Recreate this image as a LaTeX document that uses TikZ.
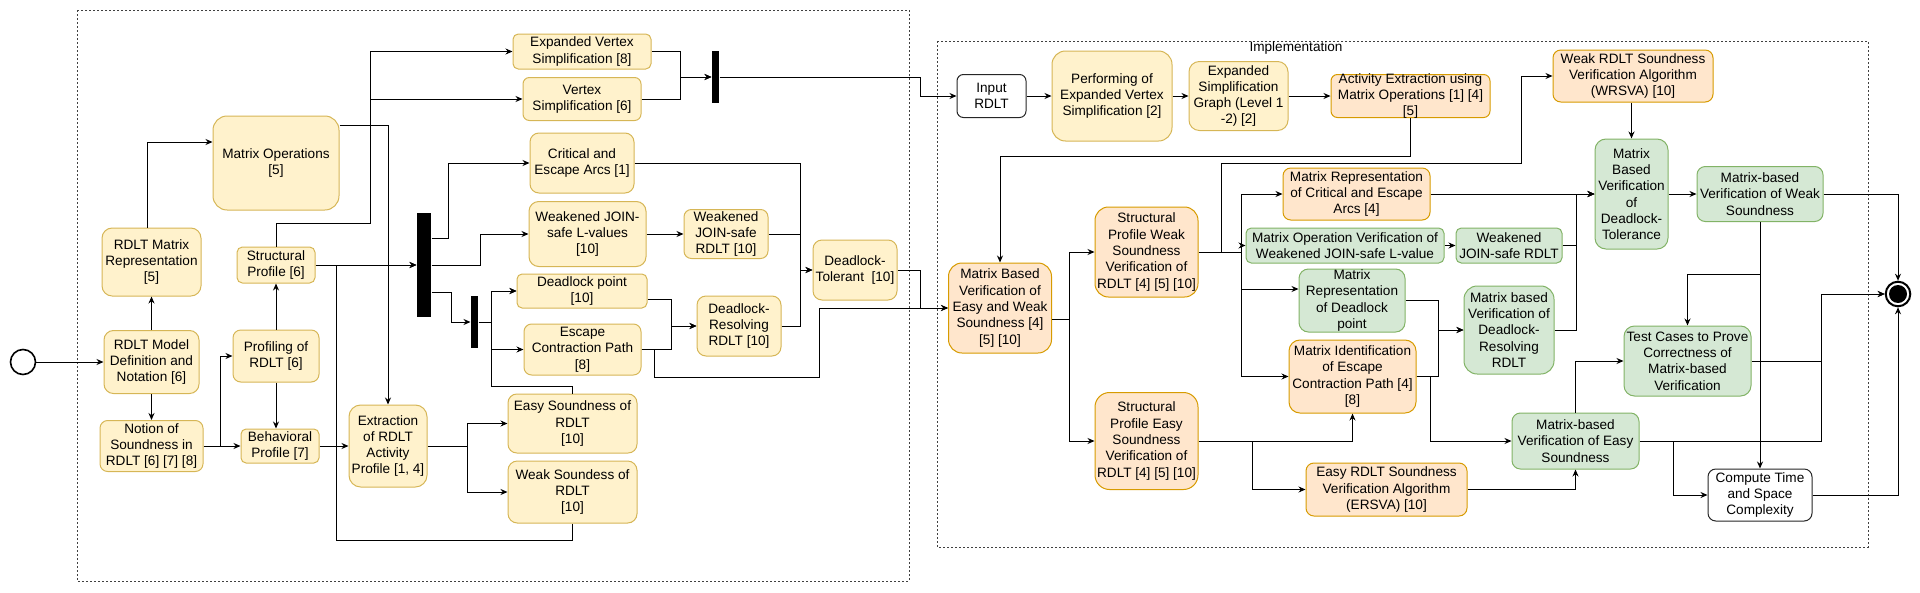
\documentclass[tikz,border=0pt]{standalone}
\usepackage{fontspec}
\setmainfont{Liberation Sans}
\usetikzlibrary{arrows.meta}

\definecolor{ylwfill}{HTML}{FFF2CC}
\definecolor{ylwline}{HTML}{D6B656}
\definecolor{orgfill}{HTML}{FFE6CC}
\definecolor{orgline}{HTML}{D79B00}
\definecolor{grnfill}{HTML}{D5E8D4}
\definecolor{grnline}{HTML}{82B366}

\begin{document}
\begin{tikzpicture}[x=1pt,y=-1pt,line width=1pt,>={Stealth[length=7pt,width=6pt]},
        font=\fontsize{13.6}{16.3}\selectfont,
        box/.style 2 args={rectangle, draw, align=center, inner sep=0pt,
            minimum width=#1pt, minimum height=#2pt, rounded corners={0.15*min(#1,#2)}},
        yellowbox/.style={fill=ylwfill, draw=ylwline},
        orangebox/.style={fill=orgfill, draw=orgline},
        greenbox/.style={fill=grnfill, draw=grnline},
        whitebox/.style={fill=white, draw=black!85},
        bar/.style={fill=black, inner sep=0pt},
        region/.style={draw=black!75, dash pattern=on 2pt off 2pt}]
    \useasboundingbox (0,0) rectangle (1920,592);

    % the two dotted regions
    \draw[region] (77,10) rectangle (909,581);
    \draw[region] (937,41) rectangle (1868,547);
    \node (impl) at (1296,48) {Implementation};

    % study of RDLT
    \node[circle, draw, line width=1.6pt, minimum size=25pt, inner sep=0pt] (start) at (23,362) {};
    \node[box={95}{63}, yellowbox] (mdef) at (151.5,362) {RDLT Model\\Definition and\\Notation [6]};
    \node[box={103}{51}, yellowbox] (notion) at (151.5,446) {Notion of\\Soundness in\\RDLT [6] [7] [8]};
    \node[box={99}{68}, yellowbox] (mrep) at (151.5,262) {RDLT Matrix\\Representation\\{}[5]};
    \node[box={126}{94}, yellowbox] (mops) at (276,163) {Matrix Operations\\{}[5]};
    \node[box={78}{36}, yellowbox] (sprof) at (276,265) {Structural\\Profile [6]};
    \node[box={86}{52}, yellowbox] (prof) at (276,356) {Profiling of\\RDLT [6]};
    \node[box={78}{34}, yellowbox] (bprof) at (280,446) {Behavioral\\Profile [7]};
    \node[box={78}{82}, yellowbox] (extr) at (388,446) {Extraction\\of RDLT\\Activity\\Profile [1, 4]};
    \node[box={129}{59}, yellowbox] (easy) at (572.5,423.5) {Easy Soundness of\\RDLT\\{}[10]};
    \node[box={129}{62}, yellowbox] (weak) at (572.5,492) {Weak Soundess of\\RDLT\\{}[10]};
    \node[box={138}{35}, yellowbox] (evs) at (582,51.5) {Expanded Vertex\\Simplification [8]};
    \node[box={118}{43}, yellowbox] (vs) at (582,99) {Vertex\\Simplification [6]};
    \node[box={104}{60}, yellowbox] (crit) at (582,163) {Critical and\\Escape Arcs [1]};
    \node[box={117}{65}, yellowbox] (wjl) at (587.5,234) {Weakened JOIN-\\safe L-values\\{}[10]};
    \node[box={84}{49}, yellowbox] (wjr) at (726,234) {Weakened\\JOIN-safe\\RDLT [10]};
    \node[box={130}{34}, yellowbox] (dlp) at (582,291) {Deadlock point\\{}[10]};
    \node[box={117}{51}, yellowbox] (ecp) at (582.5,349.5) {Escape\\Contraction Path\\{}[8]};
    \node[box={84}{60}, yellowbox] (dlr) at (739,326) {Deadlock-\\Resolving\\RDLT [10]};
    \node[box={84}{60}, yellowbox] (dlt) at (855,270) {Deadlock-\\Tolerant~~[10]};
    \node[bar, minimum width=14pt, minimum height=104pt] (barA) at (424,265) {};
    \node[bar, minimum width=7pt, minimum height=52pt] (barB) at (474.5,322) {};
    \node[bar, minimum width=7pt, minimum height=52pt] (barC) at (715.5,77) {};

    % implementation
    \node[box={69}{43}, whitebox] (input) at (991.5,96) {Input\\RDLT};
    \node[box={120}{90}, yellowbox] (pevs) at (1112,96) {Performing of\\Expanded Vertex\\Simplification [2]};
    \node[box={99}{69}, yellowbox] (esg) at (1238.5,96) {Expanded\\Simplification\\Graph (Level 1\\-2) [2]};
    \node[box={159}{43}, orangebox, inner ysep=-2pt] (aem) at (1410.5,96) {Activity Extraction using\\Matrix Operations [1] [4]\\{}[5]};
    \node[box={103}{90}, orangebox] (mbv) at (1000,308) {Matrix Based\\Verification of\\Easy and Weak\\Soundness [4]\\{}[5] [10]};
    \node[box={103}{90}, orangebox] (spw) at (1146.5,252) {Structural\\Profile Weak\\Soundness\\Verification of\\RDLT [4] [5] [10]};
    \node[box={103}{97}, orangebox] (spe) at (1146.5,441) {Structural\\Profile Easy\\Soundness\\Verification of\\RDLT [4] [5] [10]};
    \node[box={147}{52}, orangebox] (mrc) at (1356.5,194) {Matrix Representation\\of Critical and Escape\\Arcs [4]};
    \node[box={198}{35}, greenbox] (mov) at (1345,245.5) {Matrix Operation Verification of\\Weakened JOIN-safe L-value};
    \node[box={106}{35}, greenbox] (wjg) at (1509,245.5) {Weakened\\JOIN-safe RDLT};
    \node[box={106}{63}, greenbox] (mrd) at (1352,300.5) {Matrix\\Representation\\of Deadlock\\point};
    \node[box={90}{88}, greenbox] (mbvdr) at (1509,330) {Matrix based\\Verification of\\Deadlock-\\Resolving\\RDLT};
    \node[box={127}{73}, orangebox] (mie) at (1352.5,376.5) {Matrix Identification\\of Escape\\Contraction Path [4]\\{}[8]};
    \node[box={161}{53}, orangebox] (ersva) at (1386.5,489.5) {Easy RDLT Soundness\\Verification Algorithm\\(ERSVA) [10]};
    \node[box={160}{52}, orangebox] (wrsva) at (1633,76) {Weak RDLT Soundness\\Verification Algorithm\\(WRSVA) [10]};
    \node[box={73}{110}, greenbox] (mbvdt) at (1631.5,194) {Matrix\\Based\\Verification\\of\\Deadlock-\\Tolerance};
    \node[box={126}{55}, greenbox] (mbvws) at (1760,194) {Matrix-based\\Verification of Weak\\Soundness};
    \node[box={127}{70}, greenbox] (test) at (1687.5,361) {Test Cases to Prove\\Correctness of\\Matrix-based\\Verification};
    \node[box={127}{56}, greenbox] (mbves) at (1575.5,441) {Matrix-based\\Verification of Easy\\Soundness};
    \node[box={104}{52}, whitebox] (cts) at (1760,495) {Compute Time\\and Space\\Complexity};
    \node[circle, draw, line width=2pt, minimum size=24.6pt, inner sep=0pt] (end) at (1898,294) {};
    \fill (end.center) circle (9pt);

    % connectors, study part
    \draw[->] (start) -- (mdef);
    \draw[->] (mdef) -- (mrep);
    \draw[->] (mdef) -- (notion);
    \draw[->] (mrep.north -| 147,0) |- (mops.west |- 0,142);
    \draw[->] (notion) -- (bprof);
    \draw[->] (220,446) |- (prof);
    \draw[->] (prof.south) -- (prof.south |- bprof.north);
    \draw[->] (prof) -- (sprof);
    \draw[->] (sprof) |- (370,223) |- (evs);
    \draw[->] (370,99) -- (vs);
    \draw[->] (mops.east |- 0,125) -| (extr);
    \draw[->] (sprof) -- (barA);
    \draw[->] (weak) |- (336,540) |- (barA);
    \draw[->] (barA.east |- 0,238) -- (448,238) |- (crit);
    \draw[->] (barA) -- (480,265) |- (wjl);
    \draw[->] (barA.east |- 0,292) -- (451,292) |- (barB);
    \draw[->] (barB) -- (491,322) |- (dlp);
    \draw[->] (491,322) |- (ecp);
    \draw[->] (easy) |- (491,386) |- (dlp);
    \draw[->] (bprof) -- (extr);
    \draw[->] (extr) -- (467,446) |- (easy);
    \draw[->] (467,446) |- (weak);
    \draw[->] (wjl) -- (wjr);
    \draw[->] (evs) -| (680,77) -- (barC);
    \draw[->] (vs) -| (680,77) -- (barC);
    \draw[->] (crit) -| (800,270) -- (dlt);
    \draw (wjr) -- (800,234);
    \draw[->] (dlr) -| (800,270) -- (dlt);
    \draw[->] (dlp.east |- 0,299) -| (671,326) -- (dlr);
    \draw[->] (ecp) -| (671,326) -- (dlr);
    \draw[->] (ecp) -| (654,377) -| (819,308) -- (mbv);
    \draw[->] (dlt) -| (920,308) -- (mbv);
    \draw[->] (barC) -| (920,96) -- (input);

    % connectors, implementation
    \draw[->] (input) -- (pevs);
    \draw[->] (pevs) -- (esg);
    \draw[->] (esg) -- (aem);
    \draw[->] (aem) |- (1000,156) -- (mbv);
    \draw[->] (mbv.east |- 0,319) -| (1069,252) -- (spw);
    \draw[->] (1069,319) |- (spe);
    \draw[->] (spw) -- (1241,252) |- (mrc);
    \draw[->] (1241,252) |- (mov);
    \draw[->] (1241,252) |- (mrd.west |- 0,289);
    \draw[->] (1241,252) |- (mie);
    \draw[->] (1221,252) |- (1521,163) |- (wrsva);
    \draw[->] (mov) -- (wjg);
    \draw[->] (mrc) -- (mbvdt);
    \draw[->] (wjg) -| (1576,194) -- (mbvdt);
    \draw[->] (mbvdr) -| (1576,194) -- (mbvdt);
    \draw[->] (mrd) -| (1438,330) -- (mbvdr);
    \draw[->] (mie) -| (1438,330) -- (mbvdr);
    \draw[->] (mie) -| (1430,441) -- (mbves);
    \draw[->] (spe) -| (mie);
    \draw[->] (1252,441) |- (ersva);
    \draw[->] (ersva) -| (mbves);
    \draw[->] (wrsva.south -| mbvdt) -- (mbvdt);
    \draw[->] (mbvdt) -- (mbvws);
    \draw[->] (mbvws) -| (end);
    \draw[->] (mbvws) -- (cts);
    \draw[->] (1760,274) -| (test);
    \draw[->] (mbves) |- (test);
    \draw[->] (mbves) -| (1821,294) -- (end);
    \draw[->] (test) -| (1821,294) -- (end);
    \draw[->] (1673,441) |- (cts);
    \draw[->] (cts) -| (end);
\end{tikzpicture}
\end{document}
